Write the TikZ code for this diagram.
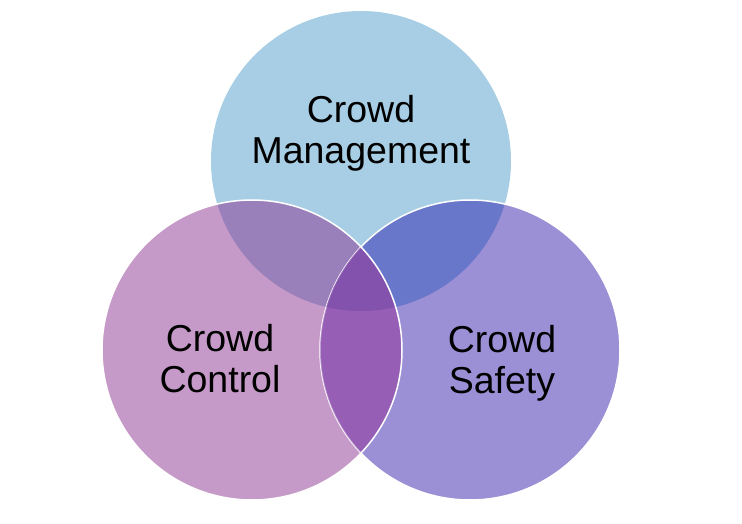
\documentclass[tikz,border=0pt]{standalone}
\usepackage{fontspec}
\setmainfont{Liberation Sans}
\definecolor{mgmtblue}{HTML}{A7CEE4}
\definecolor{ctrlpink}{HTML}{C69AC8}
\definecolor{safeviolet}{HTML}{9B8FD5}
\definecolor{mgmtctrl}{HTML}{9A80BB}
\definecolor{mgmtsafe}{HTML}{6977CB}
\definecolor{ctrlsafe}{HTML}{965FB5}
\definecolor{allthree}{HTML}{7E4FAA}
\begin{document}
\begin{tikzpicture}[x=1pt, y=-1pt,
  venntext/.style={align=center, font=\fontsize{37.5}{41}\selectfont, text=black},
  rim/.style={draw=white, line width=1.5pt}]
  \useasboundingbox (0,0) rectangle (742,524);
  \coordinate (mgmt) at (361,161);
  \coordinate (ctrl) at (252,350);
  \coordinate (safe) at (470,350);
  \fill[mgmtblue] (mgmt) circle (150pt);
  \fill[safeviolet] (safe) circle (150pt);
  \fill[ctrlpink] (ctrl) circle (150pt);
  \begin{scope}
    \clip (mgmt) circle (150pt);
    \fill[mgmtctrl] (ctrl) circle (150pt);
    \fill[mgmtsafe] (safe) circle (150pt);
  \end{scope}
  \begin{scope}
    \clip (ctrl) circle (150pt);
    \fill[ctrlsafe] (safe) circle (150pt);
    \clip (mgmt) circle (150pt);
    \fill[allthree] (safe) circle (150pt);
  \end{scope}
  \draw[rim] (safe) circle (150pt);
  \begin{scope}[opacity=0.6]
    \clip (ctrl) circle (150pt);
    \fill[ctrlsafe] (safe) circle (150pt);
    \clip (mgmt) circle (150pt);
    \fill[allthree] (safe) circle (150pt);
  \end{scope}
  \draw[rim] (ctrl) circle (150pt);
  \node[venntext] (mgmtlbl) at (361,133) {Crowd\\Management};
  \node[venntext] (ctrllbl) at (220,359) {Crowd\\Control};
  \node[venntext] (safelbl) at (502,363) {Crowd\\Safety};
\end{tikzpicture}
\end{document}
